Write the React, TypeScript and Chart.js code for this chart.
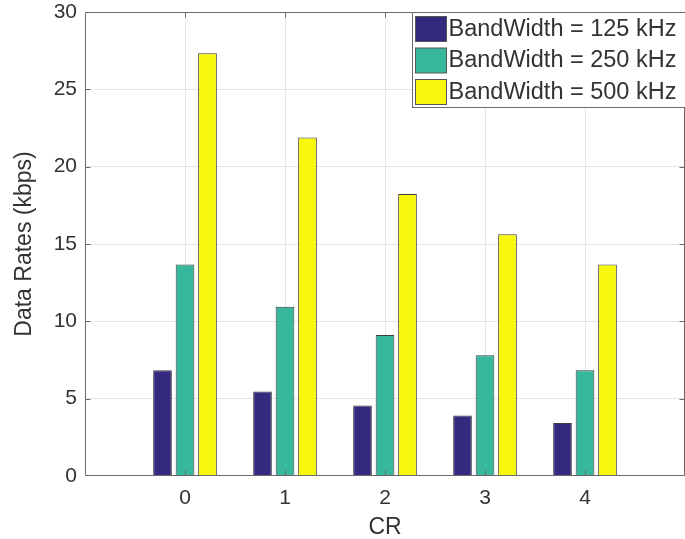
import React, { useEffect, useRef } from 'react';
import { Chart, registerables } from 'chart.js';

Chart.register(...registerables);

const categories = [0, 1, 2, 3, 4];
const bw125 = [6.84, 5.47, 4.56, 3.91, 3.42];
const bw250 = [13.67, 10.94, 9.11, 7.81, 6.84];
const bw500 = [27.34, 21.88, 18.23, 15.63, 13.67];
const seriesLabels = ['BandWidth = 125 kHz', 'BandWidth = 250 kHz', 'BandWidth = 500 kHz'];
const seriesColors = ['#33297f', '#37b79c', '#f8f80c'];
const xTitle = 'CR';
const yTitle = 'Data Rates (kbps)';
const yMin = 0;
const yMax = 30;
const yStep = 5;

const FONT = "'Liberation Sans', Arial, Helvetica, sans-serif";
const AXIS_COLOR = '#6a6a6a';
const GRID_COLOR = '#e6e6e6';
const TEXT_COLOR = '#333333';

const framePlugin = {
  id: 'matlabFrame',
  afterDatasetsDraw(chart: any) {
    const { ctx, chartArea: a, scales } = chart;
    ctx.save();
    ctx.strokeStyle = AXIS_COLOR;
    ctx.lineWidth = 1;
    const L = Math.round(a.left) + 0.5;
    const R = Math.round(a.right) - 0.5;
    const T = Math.round(a.top) + 0.5;
    const B = Math.round(a.bottom) - 0.5;
    ctx.beginPath();
    ctx.rect(L, T, R - L, B - T);
    ctx.stroke();
    const tl = 5;
    ctx.beginPath();
    categories.forEach((c) => {
      const px = Math.round(scales.x.getPixelForValue(c)) + 0.5;
      ctx.moveTo(px, B);
      ctx.lineTo(px, B - tl);
      ctx.moveTo(px, T);
      ctx.lineTo(px, T + tl);
    });
    for (let v = yMin + yStep; v < yMax; v += yStep) {
      const py = Math.round(scales.y.getPixelForValue(v)) + 0.5;
      ctx.moveTo(L, py);
      ctx.lineTo(L + tl, py);
      ctx.moveTo(R, py);
      ctx.lineTo(R - tl, py);
    }
    ctx.stroke();
    ctx.restore();
  },
  afterDraw(chart: any) {
    const { ctx, chartArea: a } = chart;
    ctx.save();
    const boxW = 275;
    const boxH = 95;
    const bx = Math.round(a.left) + 327.5;
    const by = Math.round(a.top) + 0.5;
    ctx.fillStyle = '#ffffff';
    ctx.fillRect(bx, by, boxW, boxH);
    ctx.strokeStyle = AXIS_COLOR;
    ctx.lineWidth = 1;
    ctx.strokeRect(bx, by, boxW, boxH);
    ctx.font = `23.5px ${FONT}`;
    ctx.textBaseline = 'middle';
    ctx.textAlign = 'left';
    chart.data.datasets.forEach((ds: any, i: number) => {
      const sx = bx + 3;
      const sy = by + 4 + i * 31.5;
      ctx.fillStyle = ds.backgroundColor;
      ctx.fillRect(sx, sy, 31, 25);
      ctx.strokeStyle = '#555555';
      ctx.strokeRect(sx, sy, 31, 25);
      ctx.fillStyle = TEXT_COLOR;
      ctx.fillText(ds.label, sx + 33, sy + 13);
    });
    ctx.restore();
  },
};

export default function App() {
  const ref = useRef<HTMLCanvasElement | null>(null);
  useEffect(() => {
    if (!ref.current) return;
    const seriesValues = [bw125, bw250, bw500];
    const chart = new Chart(ref.current, {
      type: 'bar',
      data: {
        datasets: seriesValues.map((vals, si) => ({
          label: seriesLabels[si],
          data: categories.map((c, i) => ({ x: c, y: vals[i] })),
          backgroundColor: seriesColors[si],
          borderColor: '#3c3c3c',
          borderWidth: 1,
          categoryPercentage: 0.675,
          barPercentage: 0.83,
        })),
      },
      options: {
        animation: false,
        responsive: false,
        maintainAspectRatio: false,
        layout: { padding: { top: 12, right: 0, left: 0, bottom: 0 } },
        plugins: { legend: { display: false }, tooltip: { enabled: false } },
        scales: {
          x: {
            type: 'linear',
            min: -1,
            max: 5,
            offset: false,
            grid: {
              offset: false,
              drawTicks: false,
              color: (c: any) =>
                c.tick && (c.tick.value < categories[0] || c.tick.value > categories[categories.length - 1])
                  ? 'rgba(0,0,0,0)'
                  : GRID_COLOR,
            },
            border: { display: false },
            ticks: {
              stepSize: 1,
              padding: 10,
              autoSkip: false,
              maxRotation: 0,
              color: TEXT_COLOR,
              font: { family: FONT, size: 21 },
              callback: (v: any) => (categories.includes(Number(v)) ? String(v) : ''),
            },
            title: {
              display: true,
              text: xTitle,
              color: TEXT_COLOR,
              font: { family: FONT, size: 23 },
              padding: { top: 0, bottom: -2 },
            },
            afterFit: (s: any) => {
              s.height = 63;
              s.paddingLeft = 0;
              s.paddingRight = 0;
            },
          },
          y: {
            min: yMin,
            max: yMax,
            grid: {
              drawTicks: false,
              color: (c: any) =>
                c.tick && (c.tick.value === yMin || c.tick.value === yMax) ? 'rgba(0,0,0,0)' : GRID_COLOR,
            },
            border: { display: false },
            ticks: {
              stepSize: yStep,
              padding: 8,
              color: TEXT_COLOR,
              font: { family: FONT, size: 21 },
            },
            title: {
              display: true,
              text: yTitle,
              color: TEXT_COLOR,
              font: { family: FONT, size: 23 },
              padding: { top: 11, bottom: 0 },
            },
            afterFit: (s: any) => {
              s.width = 85;
              s.paddingTop = 0;
              s.paddingBottom = 0;
            },
          },
        },
      },
      plugins: [framePlugin],
    } as any);
    return () => chart.destroy();
  }, []);
  return (
    <div style={{ position: 'absolute', left: 0, top: 0, width: 685, height: 539, background: '#fff' }}>
      <canvas ref={ref} width={685} height={539} style={{ display: 'block' }} />
    </div>
  );
}
